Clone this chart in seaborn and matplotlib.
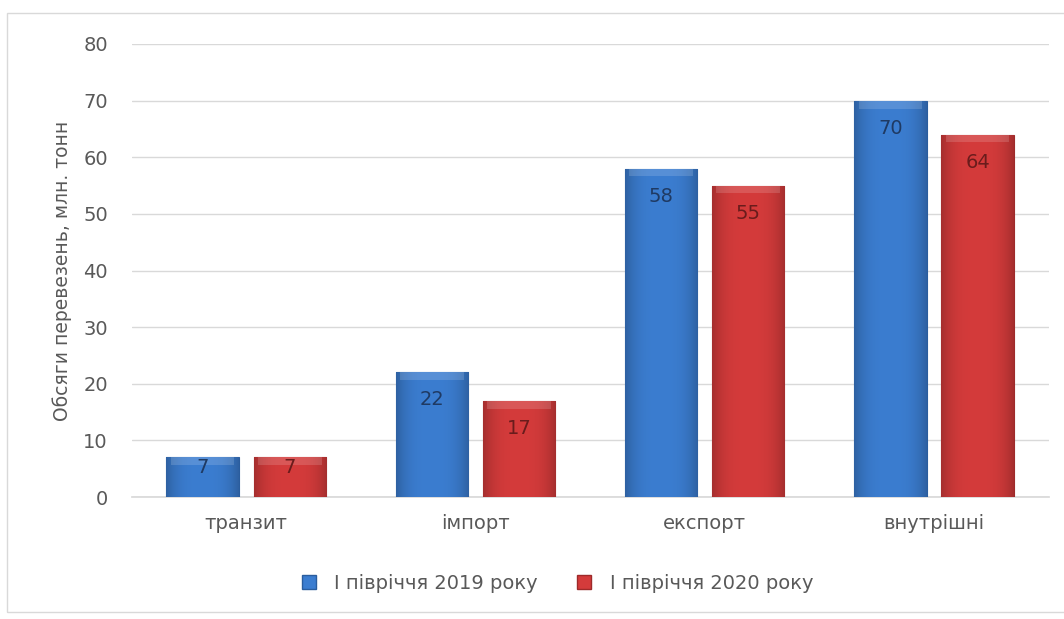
import numpy as np
import pandas as pd
import matplotlib
matplotlib.use("Agg")
import matplotlib.pyplot as plt
import matplotlib.colors as mcolors
from matplotlib.patches import Rectangle
import seaborn as sns

# Freight volumes by type of transport, million tonnes
categories = ["транзит", "імпорт", "експорт", "внутрішні"]
series_names = ["І півріччя 2019 року", "І півріччя 2020 року"]
h1_2019 = [7, 22, 58, 70]
h1_2020 = [7, 17, 55, 64]
y_ticks = [0, 10, 20, 30, 40, 50, 60, 70, 80]

df = pd.DataFrame({
    "category": categories * 2,
    "series": [series_names[0]] * 4 + [series_names[1]] * 4,
    "value": h1_2019 + h1_2020,
})

sns.set_theme(style="white")
plt.rcParams["font.family"] = ["DejaVu Sans"]

bar_colors = {series_names[0]: "#3b7dd0", series_names[1]: "#d43b3b"}
edge_colors = {series_names[0]: "#2a5d9e", series_names[1]: "#9e2a2a"}
label_colors = {series_names[0]: "#1f3a63", series_names[1]: "#6a1c1c"}

fig = plt.figure(figsize=(10.64, 6.19), dpi=100)
ax = fig.add_axes([0.1236, 0.197, 0.862, 0.732])

sns.barplot(data=df, x="category", y="value", hue="series",
            palette=bar_colors, width=0.76, gap=0.17, ax=ax,
            legend=False, zorder=3)

ax.set_xlim(-0.5, 3.5)
ax.set_ylim(0, 80)
ax.set_yticks(y_ticks)
ax.yaxis.grid(True, color="#d9d9d9", linewidth=1.0, zorder=0)
ax.set_axisbelow(True)
for s in ["top", "right", "left"]:
    ax.spines[s].set_visible(False)
ax.spines["bottom"].set_color("#d9d9d9")
ax.spines["bottom"].set_zorder(1)

ax.tick_params(axis="y", length=0, pad=17, labelsize=14, labelcolor="#595959")
ax.tick_params(axis="x", length=0, pad=12, labelsize=14, labelcolor="#595959")
ax.set_xlabel("")
ax.set_ylabel("Обсяги перевезень, млн. тонн", fontsize=13.5, color="#595959", labelpad=8)

# Shaded bevel look on each bar
for cont, name in zip(ax.containers, series_names):
    base = np.array(mcolors.to_rgb(bar_colors[name]))
    x = np.linspace(-1, 1, 80)
    shade = 1.0 - 0.22 * np.abs(x) ** 3
    grad = np.clip(base[None, :] * shade[:, None], 0, 1)
    img = np.ones((1, 80, 4))
    img[0, :, :3] = grad
    for patch, val in zip(cont.patches, cont.datavalues):
        patch.set_edgecolor(edge_colors[name])
        patch.set_linewidth(0.8)
        bx, by = patch.get_x(), patch.get_y()
        bw, bh = patch.get_width(), patch.get_height()
        im = ax.imshow(img, extent=[bx, bx + bw, by, by + bh], aspect="auto",
                       zorder=3.5, interpolation="bilinear")
        im.set_clip_path(patch)
        # lighter top bevel strip
        top_h = 1.4
        ax.add_patch(Rectangle((bx + bw * 0.06, by + bh - top_h), bw * 0.88, top_h,
                               facecolor="white", alpha=0.15, linewidth=0, zorder=3.6))
        # value label inside the top of the bar
        bar_px = bh * ax.bbox.height / 80
        off = -18 if bar_px > 60 else -1
        ax.annotate(f"{val:g}", xy=(bx + bw / 2, by + bh), xytext=(0, off),
                    textcoords="offset pixels", ha="center", va="top",
                    fontsize=14, color=label_colors[name], zorder=5)

ax.set_xlim(-0.5, 3.5)
ax.set_ylim(0, 80)

# Legend below the plot
handles = [plt.Line2D([], [], marker="s", linestyle="", markersize=10,
                      markerfacecolor=bar_colors[n], markeredgecolor=edge_colors[n])
           for n in series_names]
fig.legend(handles, series_names, loc="center", bbox_to_anchor=(0.518, 0.058),
           ncol=2, frameon=False, fontsize=14, handletextpad=0.3,
           columnspacing=1.4, labelcolor="#595959")

# Chart area frame
fig.patches.append(Rectangle((7 / 1064, 7 / 619), 1.1, 599 / 619, transform=fig.transFigure,
                             fill=False, edgecolor="#d9d9d9", linewidth=1.0))

fig.savefig("out.png", dpi=100, facecolor="white")
